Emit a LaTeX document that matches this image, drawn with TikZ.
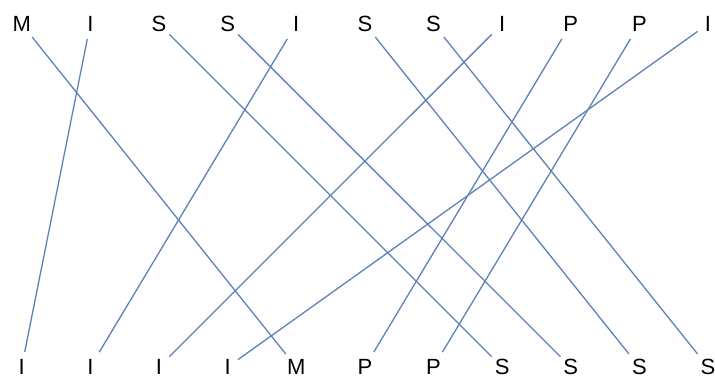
\documentclass[tikz,border=0pt]{standalone}
\usepackage{fontspec}
\setmainfont{Liberation Sans}
\usepackage{tikz}
\usetikzlibrary{positioning}
\definecolor{edgeblue}{HTML}{5E81B5}

\begin{document}
\begin{tikzpicture}[x=0.5pt,y=-0.5pt,
    letter/.style={inner sep=0pt,minimum width=10pt,minimum height=14.5pt,
                   font=\fontsize{11}{13}\selectfont},
    link/.style={draw=edgeblue,line width=0.65pt}]
    \useasboundingbox (0,0) rectangle (715,377);
    % word on top, sorted letters below
    \foreach \ch [count=\i] in {M,I,S,S,I,S,S,I,P,P,I}
        \node[letter] (t\i) at ({21.7+68.63*(\i-1)},24) {\ch};
    \foreach \ch [count=\i] in {I,I,I,I,M,P,P,S,S,S,S}
        \node[letter] (b\i) at ({21.7+68.63*(\i-1)},367) {\ch};
    \foreach \src/\dst in {1/5,2/1,3/8,4/9,5/2,6/10,7/11,8/3,9/6,10/7,11/4}
        \draw[link] (t\src) -- (b\dst);
\end{tikzpicture}
\end{document}
